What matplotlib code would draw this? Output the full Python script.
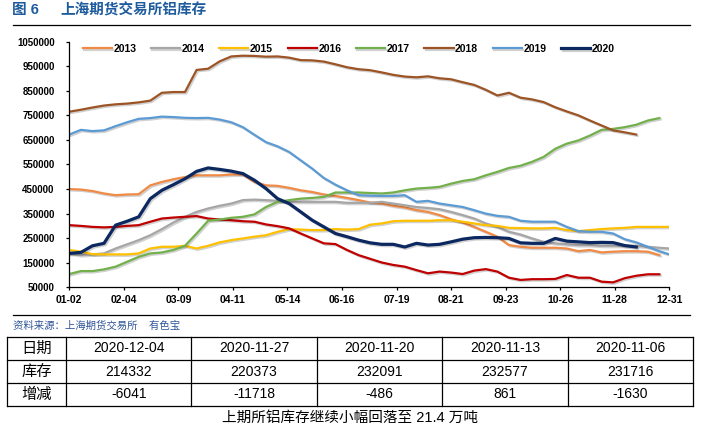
import numpy as np
import matplotlib
matplotlib.use('Agg')
import matplotlib.pyplot as plt
import matplotlib.patheffects as pe
from matplotlib.ticker import FuncFormatter

plt.rcParams['font.family'] = ['Liberation Sans', 'Noto Sans CJK SC', 'DejaVu Sans']

# ---- data (SHFE aluminium stocks, tonnes, weekly) ----
week_days = list(range(0, 358, 7)) + [363]   # days after 01-02
tick_days = list(range(0, 364, 33))
tick_labels = ['01-02', '02-04', '03-09', '04-11', '05-14', '06-16',
               '07-19', '08-21', '09-23', '10-26', '11-28', '12-31']

s2013 = [450, 448, 442, 432, 425, 428, 429, 465, 479, 490, 499, 506, 506, 506,
         509, 509, 479, 465, 463, 455, 445, 438, 428, 422, 414, 405,
         395, 391, 382, 375, 364, 357, 344, 327, 314, 296, 276, 256, 222, 215,
         211, 211, 211, 208, 197, 202, 192, 195, 197, 197, 195, 181]
s2014 = [188, 181, 184, 188, 208, 225, 242, 262, 287, 314, 337, 357, 371, 382,
         391, 405, 407, 405, 402, 398, 398, 398, 398, 398, 394, 394,
         394, 398, 391, 384, 377, 373, 368, 357, 344, 330, 310, 296, 276, 265,
         249, 235, 229, 225, 222, 222, 219, 219, 219, 219, 215, 211, 208]
s2015 = [202, 195, 185, 184, 184, 184, 188, 208, 215, 215, 219, 208, 219, 233,
         242, 249, 256, 262, 276, 287, 285, 283, 283, 287, 285, 287,
         305, 310, 319, 321, 321, 321, 323, 323, 317, 310, 303, 300, 292, 291,
         290, 290, 292, 283, 279, 283, 287, 290, 292, 296, 296, 296, 296]
s2016 = [303, 300, 296, 294, 296, 300, 303, 317, 330, 334, 337, 340, 330, 326,
         323, 319, 317, 306, 299, 290, 269, 249, 229, 226, 202, 181,
         166, 151, 141, 134, 120, 107, 114, 110, 104, 118, 124, 114, 89, 80,
         83, 83, 84, 100, 89, 89, 73, 70, 87, 97, 103, 103]
s2017 = [104, 116, 116, 123, 134, 154, 174, 188, 192, 202, 219, 269, 321, 326,
         333, 337, 347, 377, 398, 405, 411, 414, 418, 436, 436, 436,
         434, 432, 436, 445, 452, 455, 459, 472, 483, 490, 506, 520, 536, 545,
         561, 581, 614, 635, 648, 668, 691, 695, 702, 712, 729, 739]
s2018 = [765, 773, 782, 790, 795, 798, 803, 810, 842, 845, 845, 935, 940, 970,
         990, 993, 992, 989, 990, 985, 975, 974, 969, 958, 946, 938,
         934, 925, 915, 908, 905, 909, 901, 897, 885, 874, 854, 831, 842, 822,
         815, 804, 783, 766, 750, 729, 709, 689, 681, 672]
s2019 = [672, 691, 686, 689, 706, 722, 736, 739, 745, 743, 740, 739, 740, 733,
         722, 702, 671, 641, 624, 601, 567, 533, 495, 468, 445, 425,
         423, 422, 422, 425, 398, 402, 391, 384, 377, 364, 350, 341, 337, 321,
         317, 317, 317, 296, 279, 276, 276, 269, 246, 233, 215, 197, 184]
s2020 = [188, 192, 219, 229, 303, 319, 337, 411, 445, 468, 492, 522, 536, 530,
         523, 513, 486, 452, 411, 391, 357, 323, 296, 269, 256, 242,
         231, 225, 225, 214, 229, 222, 225, 235, 246, 252, 253, 252, 249, 231,
         229, 229, 249, 238, 235, 232, 233, 232, 220, 214]

years = ['2013', '2014', '2015', '2016', '2017', '2018', '2019', '2020']
series = [s2013, s2014, s2015, s2016, s2017, s2018, s2019, s2020]
colors = ['#F08A45', '#A6A6A6', '#FFC000', '#C00000', '#72B04B', '#9C5425',
          '#5B9BD5', '#0C2860']

tbl_dates = ['2020-12-04', '2020-11-27', '2020-11-20', '2020-11-13', '2020-11-06']
tbl_stock = ['214332', '220373', '232091', '232577', '231716']
tbl_change = ['-6041', '-11718', '-486', '861', '-1630']
row_names = ['日期', '库存', '增减']

W, H = 701, 429
fig = plt.figure(figsize=(W / 100, H / 100), dpi=100)

# background axes in pixel coords for title / source / table
bg = fig.add_axes([0, 0, 1, 1], zorder=-1)
bg.set_xlim(0, W); bg.set_ylim(H, 0); bg.axis('off')

title_c = '#1F5C9E'
bg.text(12, 10, '图 6', fontsize=10.5, fontweight='bold', color=title_c, va='center')
bg.text(60, 10, '上海期货交易所铝库存', fontsize=10.5, fontweight='bold', color=title_c, va='center')
bg.plot([13, 690], [25, 25], color='black', lw=0.9)
bg.plot([13, 690], [315, 315], color='black', lw=0.9)
bg.text(13, 326, '资料来源：上海期货交易所    有色宝', fontsize=7.5, color='#2F5597',
        va='center', style='italic')

# table
top, rh = 337, 23
xs = [7, 66] + [66 + 125.4 * i for i in range(1, 6)]
for i in range(4):
    bg.plot([xs[0], xs[-1]], [top + i * rh, top + i * rh], color='black', lw=0.9)
for x in xs:
    bg.plot([x, x], [top, top + 3 * rh], color='black', lw=0.9)
rows = [tbl_dates, tbl_stock, tbl_change]
for r, (name, vals) in enumerate(zip(row_names, rows)):
    yc = top + rh * (r + 0.5)
    bg.text((xs[0] + xs[1]) / 2, yc, name, fontsize=11, ha='center', va='center')
    for c, v in enumerate(vals):
        bg.text((xs[c + 1] + xs[c + 2]) / 2, yc, v, fontsize=10, ha='center', va='center')
bg.text(350, 418, '上期所铝库存继续小幅回落至 21.4 万吨', fontsize=10.5, ha='center', va='center')

# main chart
ax = fig.add_axes([69.3 / W, 1 - 287.3 / H, 600 / W, (287.3 - 41.7) / H])
for yr, vals, c in zip(years, series, colors):
    lw = 2.3 if yr == '2020' else 1.6
    ax.plot(week_days[:len(vals)], np.array(vals) * 1000, color=c, lw=lw, label=yr,
            path_effects=[pe.SimpleLineShadow(offset=(1, -1), alpha=0.18), pe.Normal()])

ax.set_xlim(0, 363)
ax.set_ylim(50000, 1050000)
ax.set_yticks(range(50000, 1050001, 100000))
ax.yaxis.set_major_formatter(FuncFormatter(lambda v, p: f'{int(round(v))}'))
ax.set_xticks(tick_days)
ax.set_xticklabels(tick_labels)
for s in ['top', 'right']:
    ax.spines[s].set_visible(False)
ax.spines['left'].set_linewidth(0.9)
ax.spines['bottom'].set_linewidth(0.9)
ax.tick_params(axis='y', direction='out', length=2.5, width=0.9, pad=8, labelsize=7)
ax.tick_params(axis='x', direction='out', length=2.5, width=0.9, pad=3, labelsize=7.5)
for lab in ax.get_xticklabels() + ax.get_yticklabels():
    lab.set_fontweight('bold')
ax.set_facecolor('none')

ax.legend(ncol=8, loc='center left', bbox_to_anchor=(82.7 / W, 1 - 49 / H),
          bbox_transform=fig.transFigure, frameon=False,
          prop={'weight': 'bold', 'size': 7.5}, handlelength=2.8,
          handletextpad=0.15, columnspacing=1.4, borderpad=0, borderaxespad=0)

plt.savefig('out.png', dpi=100)
